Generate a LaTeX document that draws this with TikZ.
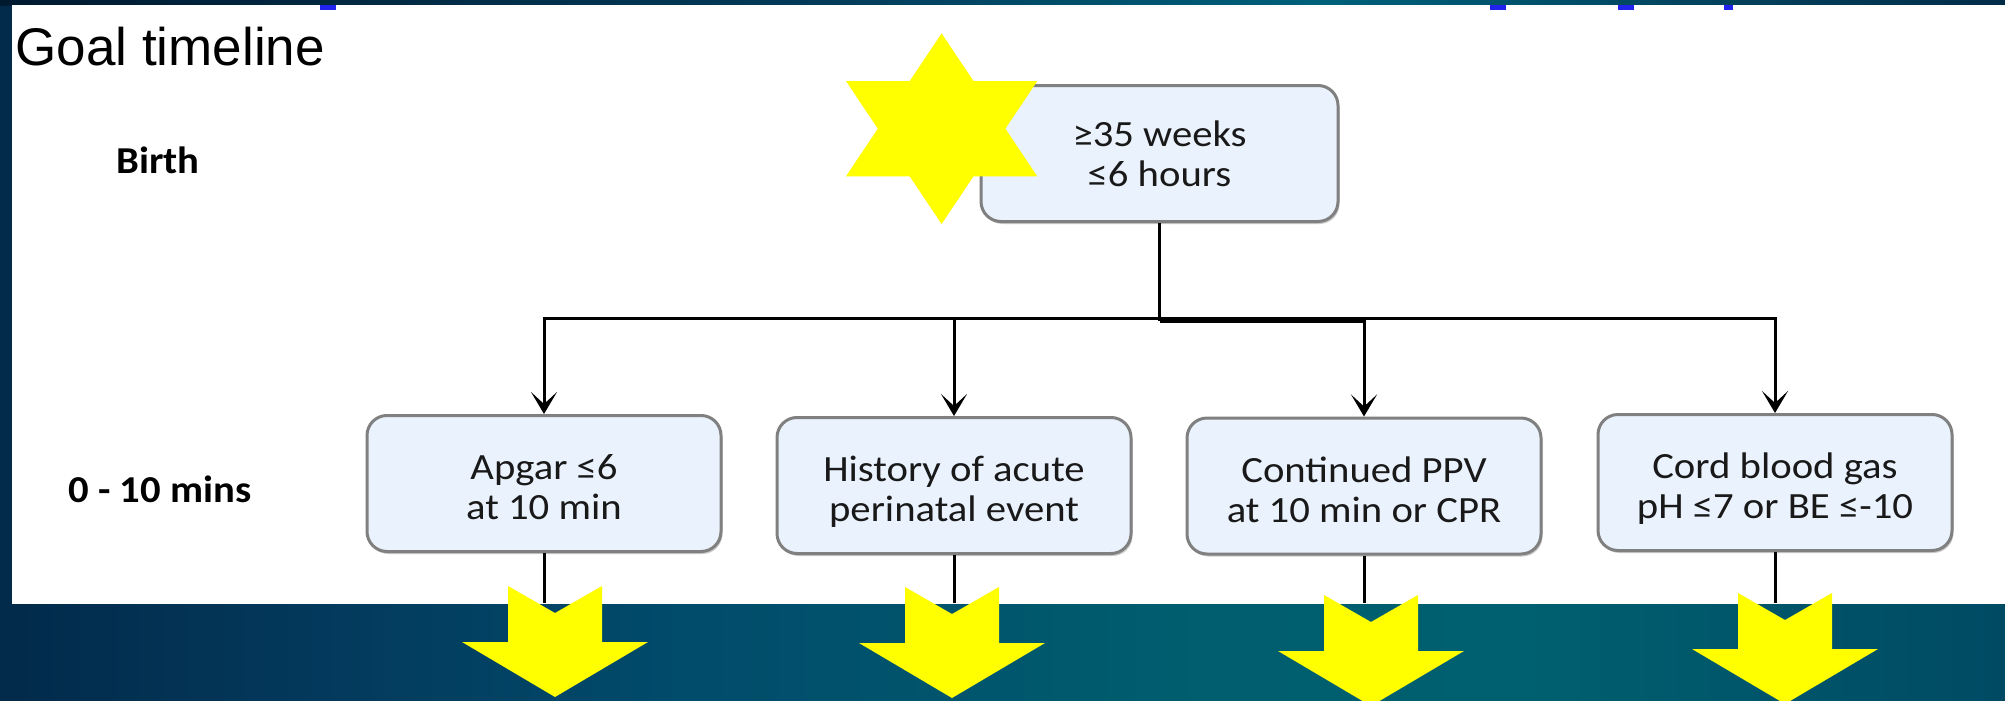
\documentclass[tikz,border=0pt]{standalone}
\usepackage{fontspec}
\setmainfont{Carlito}
\newfontfamily\titlefont{Liberation Sans}
\newfontfamily\boxfont[FakeStretch=1.1]{Carlito}
\newfontfamily\labfont[FakeStretch=1.07]{Carlito}
\usetikzlibrary{arrows.meta,shadows}
\definecolor{boxfill}{HTML}{EAF2FD}
\definecolor{boxdraw}{HTML}{808080}
\definecolor{starY}{HTML}{FFFF00}
\definecolor{fragblue}{HTML}{2222EE}
\definecolor{bgA}{HTML}{022A4A}
\definecolor{bgB}{HTML}{03395C}
\definecolor{bgC}{HTML}{014B6B}
\definecolor{bgD}{HTML}{005E6E}
\definecolor{bgE}{HTML}{00606F}
\definecolor{bgF}{HTML}{004A64}
\definecolor{tpA}{HTML}{001A30}
\definecolor{tpB}{HTML}{003A58}
\definecolor{tpC}{HTML}{00607A}
\definecolor{tpD}{HTML}{002C48}
\pgfdeclarehorizontalshading{bgshade}{100bp}{color(0bp)=(bgA); color(25bp)=(bgA); color(33bp)=(bgB); color(42bp)=(bgC); color(55bp)=(bgD); color(63bp)=(bgE); color(75bp)=(bgF); color(100bp)=(bgF)}
\pgfdeclarehorizontalshading{topshade}{100bp}{color(0bp)=(tpA); color(25bp)=(tpA); color(45bp)=(tpB); color(58bp)=(tpC); color(75bp)=(tpD); color(100bp)=(tpD)}
\newcommand\ydown[2]{\fill[starY] ({#1-47},{#2}) -- ({#1},{#2+27}) -- ({#1+47},{#2}) -- ({#1+47},{#2+56}) -- ({#1+93},{#2+56}) -- ({#1},{#2+111}) -- ({#1-93},{#2+56}) -- ({#1-47},{#2+56}) -- cycle;}
\newcommand\twolines[3]{\raisebox{0pt}[\dimexpr\height+#1pt\relax][\depth]{\begin{tabular}{@{}c@{}}#2\\#3\end{tabular}}}
\tikzset{
  box/.style={rounded corners=20pt, fill=boxfill, draw=boxdraw, line width=3pt,
    minimum width=354pt, minimum height=136pt, inner sep=0pt,
    font=\boxfont\fontsize{37}{40}\selectfont, text=black!90,
    drop shadow={shadow xshift=1.5pt, shadow yshift=-2.5pt, fill=black!40, opacity=0.5}},
  conn/.style={line width=3pt, draw=black},
  arr/.style={conn, -{Stealth[length=22pt,width=26pt,inset=12pt]}},
  lab/.style={anchor=base west, text=black, font=\labfont\bfseries\fontsize{38}{44}\selectfont}
}
\begin{document}
\begin{tikzpicture}[x=1pt,y=-1pt]
\useasboundingbox (0,0) rectangle (2005,701);
\shade[shading=bgshade] (0,0) rectangle (2005,701);
\shade[shading=topshade] (0,0) rectangle (2005,5.5);
\fill[white] (12,5) rectangle (2005,604);
% cut-off fragments at top edge
\fill[fragblue] (320,5) rectangle (336,10);
\fill[fragblue] (1490,5) rectangle (1506,10);
\fill[fragblue] (1618,5) rectangle (1634,10);
\fill[fragblue] (1724,5) rectangle (1733,10);

\node[anchor=base west, text=black, font=\titlefont\fontsize{53}{60}\selectfont] (title) at (12,66) {Goal timeline};
\node[lab] (birth) at (113,173) {Birth};
\node[lab] (mins) at (65,502) {0 - 10 mins};

\node[box, minimum width=357pt] (top) at (1159.5,153.5) {\twolines{10}{≥35 weeks}{≤6 hours}};
\node[box] (b1) at (544,483.5) {\twolines{16}{Apgar ≤6}{at 10 min}};
\node[box] (b2) at (954,485.5) {\twolines{16}{History of acute}{perinatal event}};
\node[box] (b3) at (1364,486) {\twolines{16}{Continued PPV}{at 10 min or CPR}};
\node[box] (b4) at (1775,482.5) {\twolines{16}{Cord blood gas}{pH ≤7 or BE ≤-10}};

\coordinate (hub) at (1159.5,318);
\coordinate (hubb) at (1159.5,321);
\coordinate (bot) at (0,603);
\draw[conn] (top.south) -- (hubb);
\draw[arr] (hub) -| (b1.north);
\draw[arr] (hub) -| (b2.north);
\draw[arr] (hubb) -| (b3.north);
\draw[arr] (hub) -| (b4.north);

\draw[conn] (b1.south) -- (b1.south |- bot);
\draw[conn] (b2.south) -- (b2.south |- bot);
\draw[conn] (b3.south) -- (b3.south |- bot);
\draw[conn] (b4.south) -- (b4.south |- bot);

% six-pointed star
\fill[starY] (941.6,33.4) -- (1037.3,176.4) -- (845.9,176.4) -- cycle;
\fill[starY] (941.6,224) -- (1037.3,81) -- (845.9,81) -- cycle;

% yellow block arrows
\ydown{555}{586}
\ydown{952}{587}
\ydown{1371}{595}
\ydown{1785}{593}
\end{tikzpicture}
\end{document}
